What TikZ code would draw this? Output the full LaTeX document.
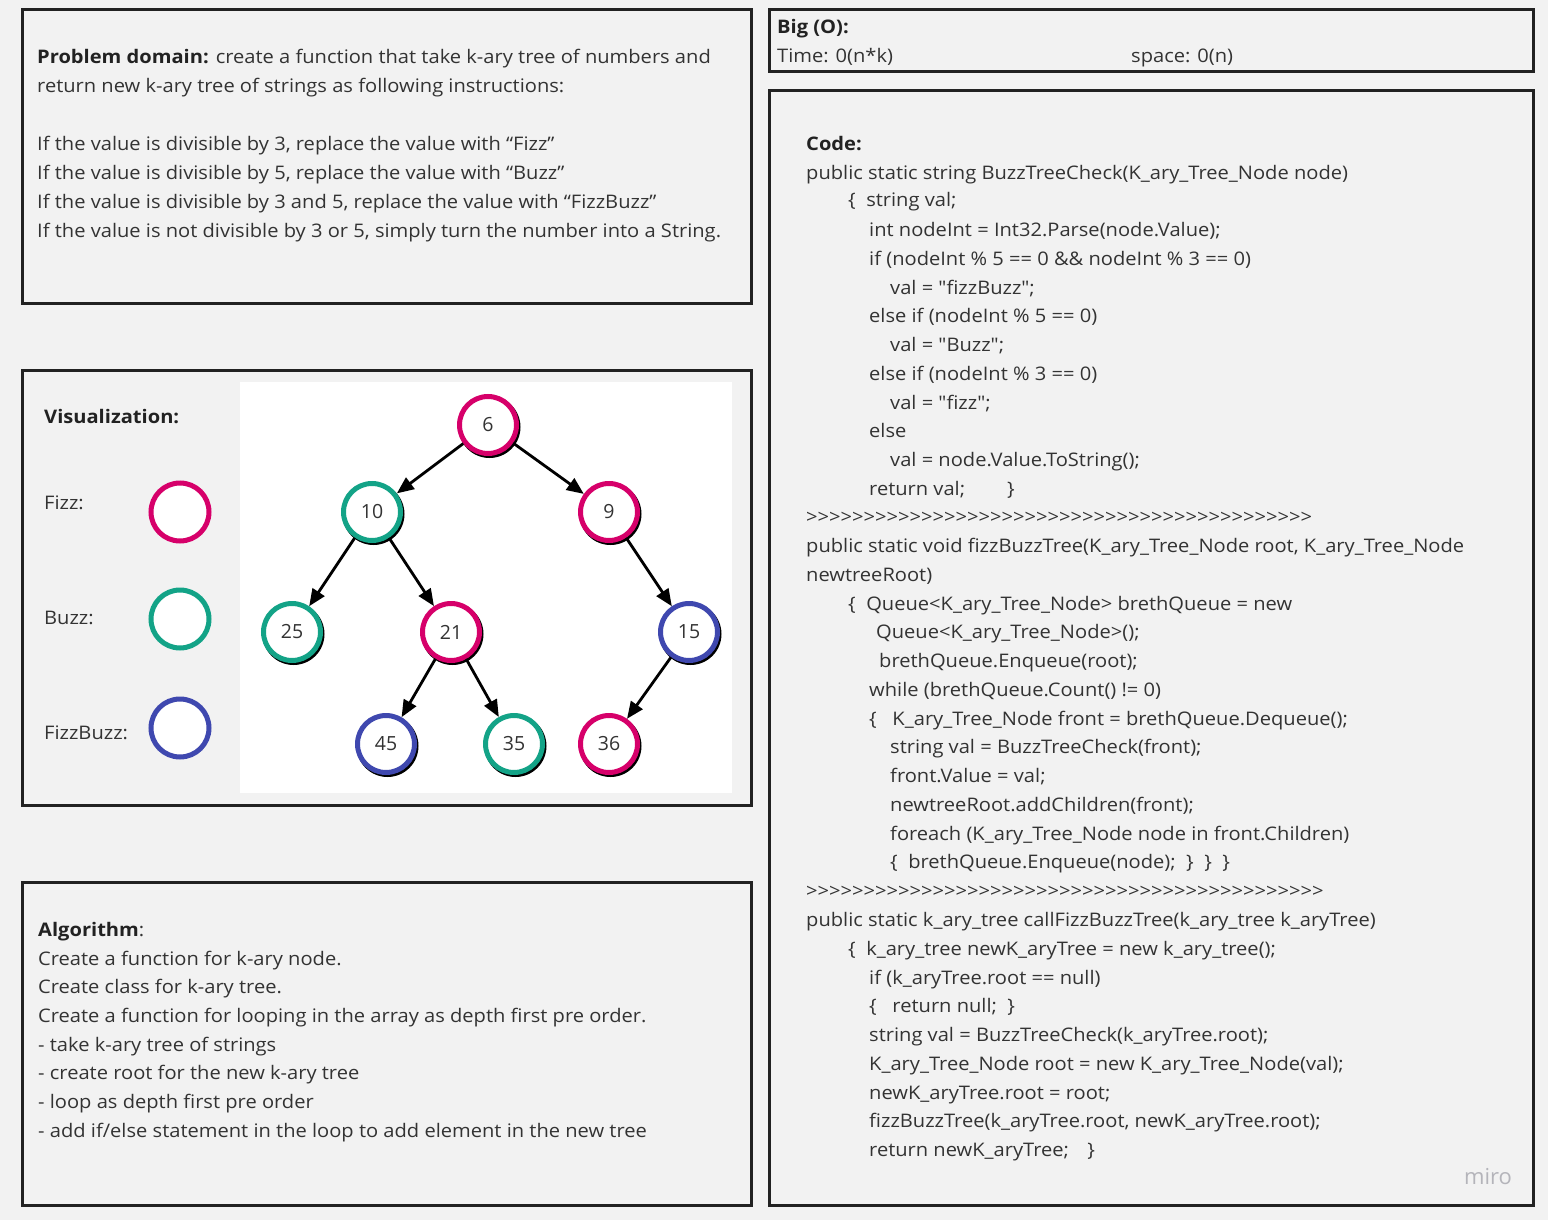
\documentclass[tikz,border=0pt]{standalone}
\usepackage{graphicx}
\usepackage{fontspec}
\setmainfont{Open Sans}[Ligatures=TeXOff]
\usetikzlibrary{arrows.meta}
\definecolor{bg}{RGB}{242,242,242}
\definecolor{frame}{RGB}{34,34,34}
\definecolor{txtc}{RGB}{51,51,51}
\definecolor{fizzc}{RGB}{214,0,106}
\definecolor{buzzc}{RGB}{19,163,135}
\definecolor{fbc}{RGB}{63,72,175}
\newcommand\fs{\fontsize{18.7pt}{22pt}\selectfont}
\newcommand\Ln[4]{\node[txt] (#1) at (#2,#3+7) {\scalebox{1.075}[1]{#4}};}
\tikzset{
  panel/.style={draw=frame, line width=3pt},
  txt/.style={anchor=base west, inner sep=0pt, font=\fs, text=txtc},
  tnode/.style={circle, draw=#1, line width=5pt, fill=white, minimum size=57pt, inner sep=0pt, font=\fontsize{19.5pt}{22pt}\selectfont, text=txtc},
  shad/.style={circle, fill=black, minimum size=62pt, inner sep=0pt},
  legend/.style={circle, draw=#1, line width=5pt, fill=white, minimum size=58pt, inner sep=0pt},
  edge/.style={line width=2.8pt, -{Triangle[length=17pt,width=14pt]}, shorten >=0pt},
}
\begin{document}
\begin{tikzpicture}[x=1pt,y=-1pt]
\path[use as bounding box, fill=bg] (0,0) rectangle (1548,1220);
% panels
\draw[panel] (22,10) rectangle (751,303);
\draw[panel] (22,370) rectangle (751,805);
\draw[panel] (22,882) rectangle (751,1205);
\draw[panel] (769,10) rectangle (1533,72);
\draw[panel] (769,91) rectangle (1533,1205);
\fill[white] (240,382) rectangle (732,793);

% Problem domain
\Ln{pd1}{37}{57}{\textbf{\color{frame}Problem domain:} create a function that take k-ary tree of numbers and}
\Ln{pd2}{37}{86}{return new k-ary tree of strings as following instructions:}
\Ln{pd3}{37}{143}{If the value is divisible by 3, replace the value with “Fizz”}
\Ln{pd4}{37}{172}{If the value is divisible by 5, replace the value with “Buzz”}
\Ln{pd5}{37}{201}{If the value is divisible by 3 and 5, replace the value with “FizzBuzz”}
\Ln{pd6}{37}{230}{If the value is not divisible by 3 or 5, simply turn the number into a String.}

% Visualization
\Ln{vis}{44}{416}{\textbf{\color{frame}Visualization:}}
\Ln{lf}{44}{502}{Fizz:}
\Ln{lb}{44}{617}{Buzz:}
\Ln{lfb}{44}{732}{FizzBuzz:}
\node[legend=fizzc] (cf) at (180,512) {};
\node[legend=buzzc] (cb) at (180,619) {};
\node[legend=fbc] (cfb) at (180,728) {};

% tree shadows
\foreach \x/\y in {488/425,372/512,609/512,292/632,451/632,689/632,386/744,514/744,609/744}
  \node[shad] at (\x+1.5,\y+2) {};
\node[tnode=fizzc] (n6) at (488,425) {6};
\node[tnode=buzzc] (n10) at (372,512) {10};
\node[tnode=fizzc] (n9) at (609,512) {9};
\node[tnode=buzzc] (n25) at (292,632) {25};
\node[tnode=fizzc] (n21) at (451,632) {21};
\node[tnode=fbc] (n15) at (689,632) {15};
\node[tnode=fbc] (n45) at (386,744) {45};
\node[tnode=buzzc] (n35) at (514,744) {35};
\node[tnode=fizzc] (n36) at (609,744) {36};
\draw[edge] (n6) -- (n10);
\draw[edge] (n6) -- (n9);
\draw[edge] (n10) -- (n25);
\draw[edge] (n10) -- (n21);
\draw[edge] (n9) -- (n15);
\draw[edge] (n21) -- (n45);
\draw[edge] (n21) -- (n35);
\draw[edge] (n15) -- (n36);

% Algorithm
\Ln{al0}{38}{929}{\textbf{\color{frame}Algorithm}:}
\Ln{al1}{38}{958}{Create a function for k-ary node.}
\Ln{al2}{38}{986}{Create class for k-ary tree.}
\Ln{al3}{38}{1015}{Create a function for looping in the array as depth first pre order.}
\Ln{al4}{38}{1044}{- take k-ary tree of strings}
\Ln{al5}{38}{1072}{- create root for the new k-ary tree}
\Ln{al6}{38}{1101}{- loop as depth first pre order}
\Ln{al7}{38}{1130}{- add if/else statement in the loop to add element in the new tree}

% Big O
\Ln{bo}{777}{27}{\textbf{\color{frame}Big (O):}}
\Ln{bt}{777}{56}{Time: 0(n*k)}
\Ln{bs}{1131}{56}{space: 0(n)}

% Code
\Ln{c0}{806}{143}{\textbf{\color{frame}Code:}}
\Ln{c1}{806}{172}{public static string BuzzTreeCheck(K\_ary\_Tree\_Node node)}
\Ln{c2}{848}{200}{\{\ \ string val;}
\Ln{c3}{869}{229}{int nodeInt = Int32.Parse(node.Value);}
\Ln{c4}{869}{258}{if (nodeInt \% 5 == 0 \&\& nodeInt \% 3 == 0)}
\Ln{c5}{890}{287}{val = "fizzBuzz";}
\Ln{c6}{869}{315}{else if (nodeInt \% 5 == 0)}
\Ln{c7}{890}{344}{val = "Buzz";}
\Ln{c8}{869}{373}{else if (nodeInt \% 3 == 0)}
\Ln{c9}{890}{402}{val = "fizz";}
\Ln{c10}{869}{430}{else}
\Ln{c11}{890}{459}{val = node.Value.ToString();}
\Ln{c12}{869}{488}{return val;}
\Ln{c12b}{1007}{488}{\}}
\Ln{c13}{806}{516}{>>>>>>>>>>>>>>>>>>>>>>>>>>>>>>>>>>>>>>>>>>>>}
\Ln{c14}{806}{545}{public static void fizzBuzzTree(K\_ary\_Tree\_Node root, K\_ary\_Tree\_Node}
\Ln{c15}{806}{574}{newtreeRoot)}
\Ln{c16}{848}{603}{\{\ \ Queue<K\_ary\_Tree\_Node> brethQueue = new}
\Ln{c17}{876}{631}{Queue<K\_ary\_Tree\_Node>();}
\Ln{c18}{879}{660}{brethQueue.Enqueue(root);}
\Ln{c19}{869}{689}{while (brethQueue.Count() != 0)}
\Ln{c20}{869}{718}{\{\ \ \ K\_ary\_Tree\_Node front = brethQueue.Dequeue();}
\Ln{c21}{890}{746}{string val = BuzzTreeCheck(front);}
\Ln{c22}{890}{775}{front.Value = val;}
\Ln{c23}{890}{804}{newtreeRoot.addChildren(front);}
\Ln{c24}{890}{833}{foreach (K\_ary\_Tree\_Node node in front.Children)}
\Ln{c25}{890}{861}{\{\ \ brethQueue.Enqueue(node);\ \ \}\ \ \}\ \ \}}
\Ln{c26}{806}{890}{>>>>>>>>>>>>>>>>>>>>>>>>>>>>>>>>>>>>>>>>>>>>>}
\Ln{c27}{806}{919}{public static k\_ary\_tree callFizzBuzzTree(k\_ary\_tree k\_aryTree)}
\Ln{c28}{848}{948}{\{\ \ k\_ary\_tree newK\_aryTree = new k\_ary\_tree();}
\Ln{c29}{869}{977}{if (k\_aryTree.root == null)}
\Ln{c30}{869}{1005}{\{\ \ \ return null;\ \ \}}
\Ln{c31}{869}{1034}{string val = BuzzTreeCheck(k\_aryTree.root);}
\Ln{c32}{869}{1063}{K\_ary\_Tree\_Node root = new K\_ary\_Tree\_Node(val);}
\Ln{c33}{869}{1092}{newK\_aryTree.root = root;}
\Ln{c34}{869}{1120}{fizzBuzzTree(k\_aryTree.root, newK\_aryTree.root);}
\Ln{c35}{869}{1149}{return newK\_aryTree;\hspace{17pt}\}}

\node[anchor=center, inner sep=0pt, font=\fontsize{22pt}{24pt}\selectfont, text={rgb,255:red,180;green,180;blue,186}] (miro) at (1488,1177) {miro};
\end{tikzpicture}
\end{document}
